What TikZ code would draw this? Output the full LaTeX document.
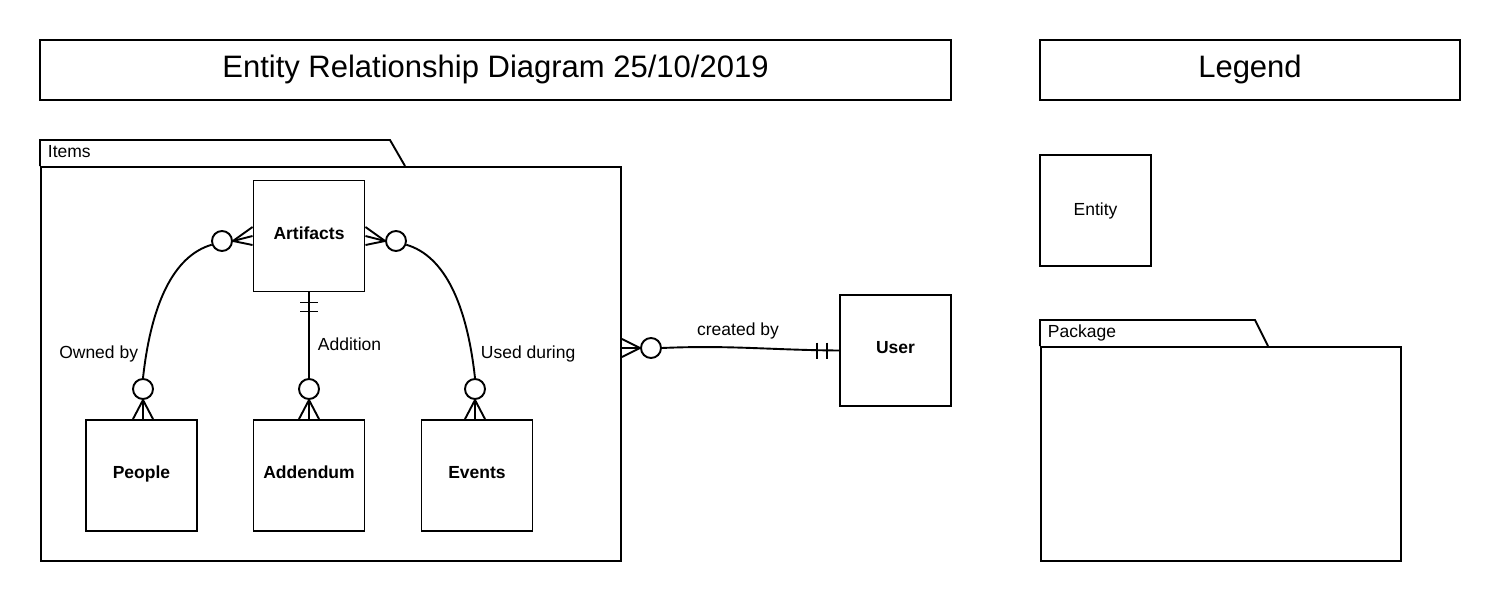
\documentclass[tikz,border=0pt]{standalone}
\usepackage{fontspec}
\setmainfont{Liberation Sans}
\usetikzlibrary{calc}
\begin{document}
\begin{tikzpicture}[x=1pt,y=-1pt, line width=1.9pt,
  box/.style={draw, minimum width=111, minimum height=111, inner sep=0, font=\fontsize{17.5}{20}\selectfont},
  entity/.style={box, text height=11pt, text depth=4.4pt, font=\fontsize{17.5}{20}\selectfont\bfseries},
  titlebox/.style={draw, inner sep=0},
  lbl/.style={inner sep=0, anchor=base, font=\fontsize{17.5}{20}\selectfont},
  bigl/.style={inner sep=0, anchor=base, font=\fontsize{31}{36}\selectfont},
  erc/.style={circle, draw, fill=white, minimum size=20, inner sep=0},
  pkg/.style={draw, inner sep=0, anchor=north west}]
\useasboundingbox (0,0) rectangle (1500,600);
% titles
\node[titlebox, minimum width=911, minimum height=60] (title) at (495.5,70) {};
\node[bigl] (titletext) at (495.5,77) {Entity Relationship Diagram 25/10/2019};
\node[titlebox, minimum width=420, minimum height=60] (legend) at (1250,70) {};
\node[bigl] (legendtext) at (1250,77) {Legend};
% items package
\node[pkg, minimum width=580, minimum height=394] (items) at (40,166) {};
\draw (items.north west) -- ++(0,-26) -- ++(350,0) -- ($(items.north west)+(365,0)$);
\node[lbl, anchor=base west] (itemslbl) at (47,157) {Items};
% entities
\node[entity] (art) at (309,236) {Artifacts};
\node[entity] (people) at (141.5,475.5) {People};
\node[entity] (add) at (309,475.5) {Addendum};
\node[entity] (ev) at (477,475.5) {Events};
\node[entity] (user) at (895.5,350.5) {User};
\node[box] (ent) at (1095.5,210.5) {Entity};
% legend package
\node[pkg, minimum width=360, minimum height=214] (lpkg) at (1040,346) {};
\draw (lpkg.north west) -- ++(0,-26) -- ++(215,0) -- ($(lpkg.north west)+(228,0)$);
\node[lbl, anchor=base west] (pkglbl) at (1047,337) {Package};
% circles
\node[erc] (cp) at (143,389) {};
\node[erc] (cap) at (222,241) {};
\node[erc] (cad) at (309,389) {};
\node[erc] (ce) at (475,389) {};
\node[erc] (cae) at (396,241) {};
\node[erc] (ci) at (651,348) {};
% crow feet
\foreach \d in {-10,0,10} \draw (cp.south) -- ($(cp.south |- people.north)+(\d,0)$);
\foreach \d in {-10,0,10} \draw (cad.south) -- ($(cad.south |- add.north)+(\d,0)$);
\foreach \d in {-10,0,10} \draw (ce.south) -- ($(ce.south |- ev.north)+(\d,0)$);
\foreach \d in {-14,-5,4} \draw (cap.east) -- ($(cap.east -| art.west)+(0,\d)$);
\foreach \d in {-14,-5,4} \draw (cae.west) -- ($(cae.west -| art.east)+(0,\d)$);
\foreach \d in {-9,0,9} \draw (ci.west) -- ($(ci.west -| items.east)+(0,\d)$);
% relationship lines
\draw (cp.north) .. controls (151,305) and (173,256) .. (cap.200);
\draw (ce.north) .. controls (467,305) and (445,256) .. (cae.-20);
\draw (art.south) -- (cad.north);
\draw ($(art.south)+(-9,10)$) -- ($(art.south)+(9,10)$);
\draw ($(art.south)+(-9,19)$) -- ($(art.south)+(9,19)$);
\draw (ci.east) .. controls (730,345) and (770,350) .. (user.west);
\draw ($(user.west)+(-12,-8)$) -- ++(0,16);
\draw ($(user.west)+(-22,-8)$) -- ++(0,16);
% labels
\node[lbl, anchor=base east] (owned) at (139,358) {Owned by};
\node[lbl, anchor=base west] (addition) at (317,350) {Addition};
\node[lbl, anchor=base west] (used) at (480,358) {Used during};
\node[lbl] (created) at (738,335) {created by};
\end{tikzpicture}
\end{document}
